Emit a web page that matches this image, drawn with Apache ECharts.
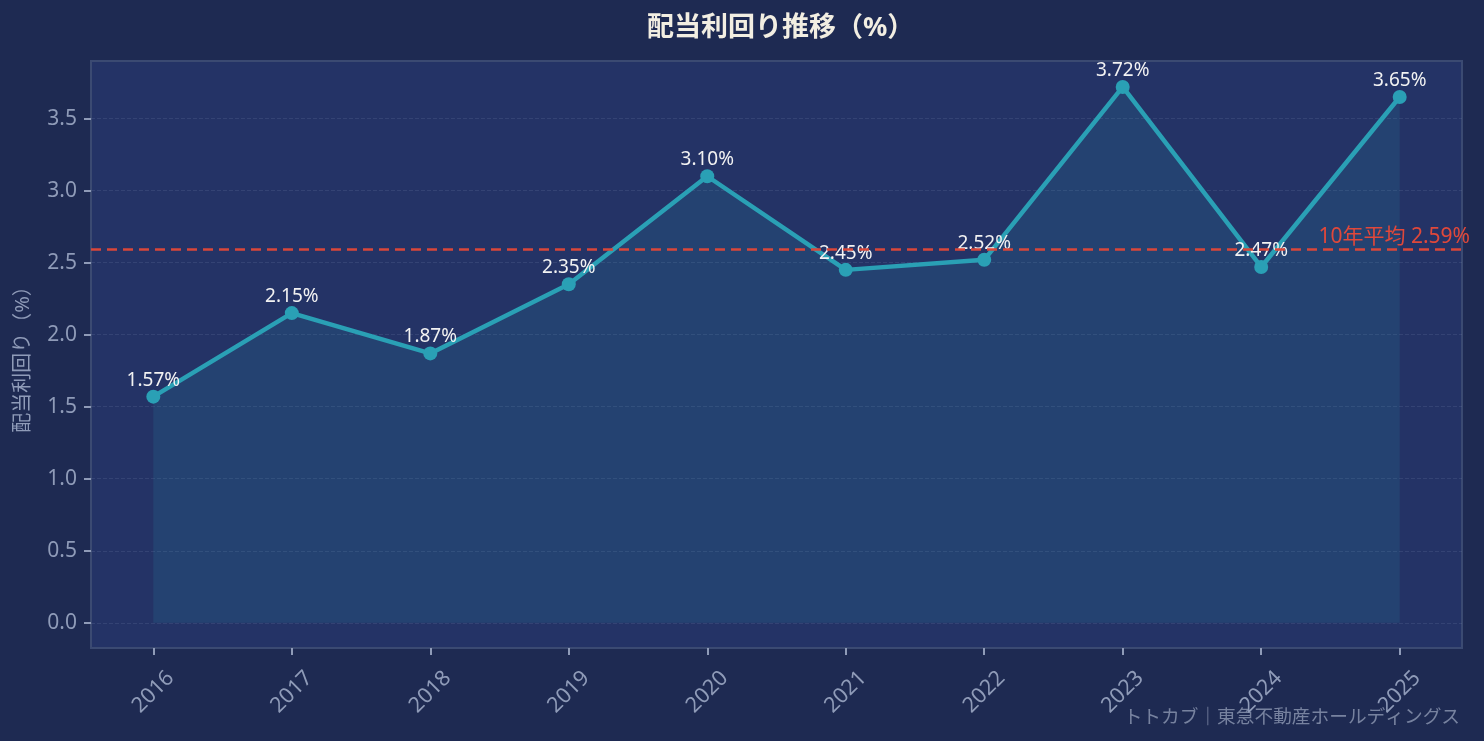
<!DOCTYPE html>
<html><head><meta charset="utf-8">
<script src="https://cdn.jsdelivr.net/npm/echarts@6/dist/echarts.min.js"></script>
<style>html,body{margin:0;padding:0;background:#1e2a52;}#c{width:1484px;height:741px;}</style>
</head><body><div id="c"></div>
<script>
const years = ['2016','2017','2018','2019','2020','2021','2022','2023','2024','2025'];
const yields = [1.57, 2.15, 1.87, 2.35, 3.10, 2.45, 2.52, 3.72, 2.47, 3.65];
const average = 2.59;
const yTicks = [0, 0.5, 1.0, 1.5, 2.0, 2.5, 3.0, 3.5];

const FONT = '"Noto Sans", "Noto Sans CJK JP", sans-serif';
const chart = echarts.init(document.getElementById('c'));
chart.setOption({
  backgroundColor: '#1e2a52',
  textStyle: {fontFamily: FONT},
  title: {
    text: '配当利回り推移（%）', left: 642, top: 10,
    textStyle: {color: '#f2eee2', fontSize: 27, fontWeight: 'bold', fontFamily: FONT}
  },
  graphic: [{
    type: 'text', right: 24, bottom: 14,
    style: {text: 'トトカブ｜東急不動産ホールディングス', fill: 'rgba(150,160,185,0.75)', font: '18.7px ' + FONT}
  }],
  grid: {left: 91, right: 22, top: 61, bottom: 93, outerBoundsMode: 'none', containLabel: false, show: true, backgroundColor: '#243366', borderColor: '#3b4a72', borderWidth: 2},
  xAxis: {
    type: 'value', min: -0.45, max: 9.45, minInterval: 1, maxInterval: 1,
    axisLine: {show: false, onZero: false},
    axisTick: {show: true, length: 7, lineStyle: {color: '#8f9bb8', width: 2}, customValues: years.map((y, i) => i)},
    splitLine: {show: false},
    axisLabel: {
      color: '#8f9bb8', fontSize: 21.5, rotate: 45, margin: 44, align: 'center', verticalAlign: 'middle',
      customValues: years.map((y, i) => i),
      formatter: v => (Number.isInteger(v) && years[v]) ? years[v] : ''
    }
  },
  yAxis: {
    type: 'value', min: -0.175, max: 3.9, minInterval: 0.5, maxInterval: 0.5,
    name: '配当利回り（%）', nameLocation: 'middle', nameGap: 58, nameRotate: 90,
    nameTextStyle: {color: '#8f9bb8', fontSize: 20},
    axisLine: {show: false, onZero: false},
    axisTick: {show: true, length: 7, lineStyle: {color: '#8f9bb8', width: 2}, customValues: yTicks},
    axisLabel: {color: '#8f9bb8', fontSize: 21, margin: 14, customValues: yTicks, formatter: v => v.toFixed(1)},
    splitLine: {show: true, lineStyle: {color: 'rgba(120,135,175,0.2)', type: 'dashed', width: 1}}
  },
  series: [{
    type: 'line',
    data: yields.map((v, i) => [i, v]),
    symbol: 'circle', symbolSize: 14,
    lineStyle: {color: '#2aa0b5', width: 4.5},
    itemStyle: {color: '#2aa0b5'},
    areaStyle: {color: 'rgba(42,160,181,0.2)', origin: 0},
    label: {show: true, position: 'top', distance: 0, color: '#f2f2f2', fontSize: 19, formatter: p => p.value[1].toFixed(2) + '%'},
    z: 3,
    markLine: {
      silent: true, symbol: ['none', 'none'],
      lineStyle: {color: '#d9473a', type: [10, 6], width: 2.5},
      label: {show: true, position: 'insideEndTop', color: '#e0483a', fontSize: 21, distance: [-8, 2], formatter: '10年平均 ' + average.toFixed(2) + '%'},
      data: [{yAxis: average}]
    }
  }]
});
</script></body></html>
